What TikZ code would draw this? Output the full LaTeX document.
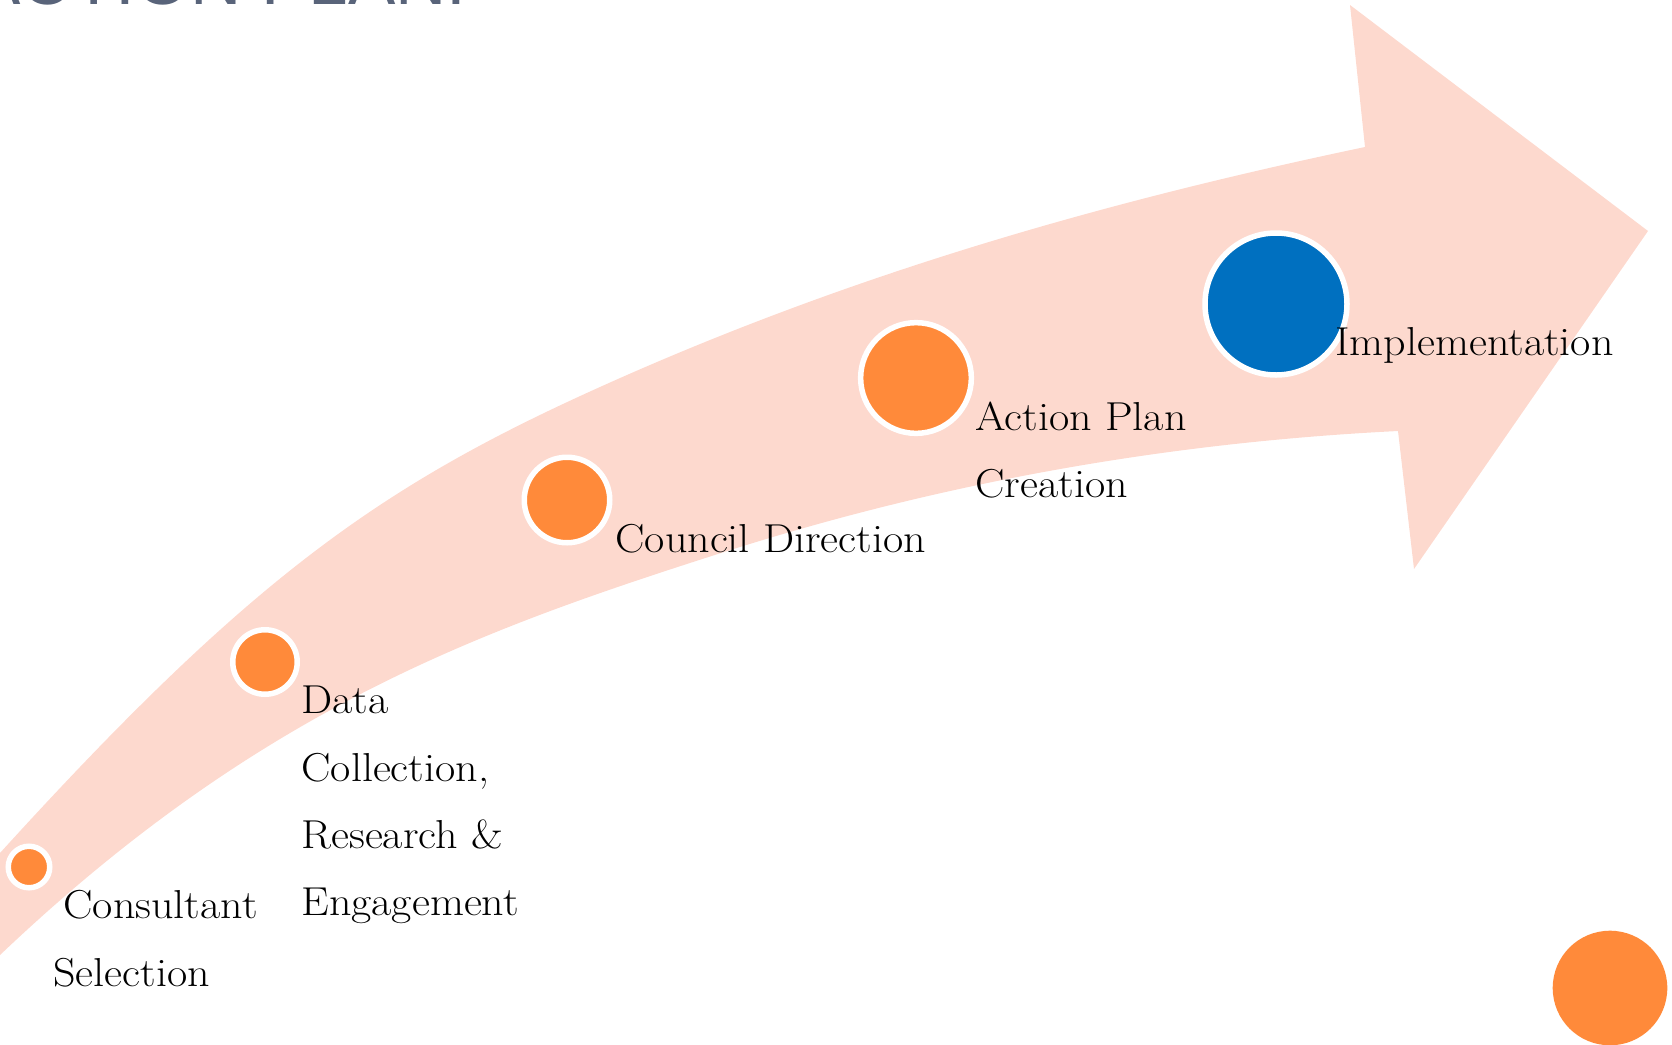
\documentclass[tikz,border=0pt]{standalone}
\usepackage{fontspec}
\newfontfamily\titlefont{Liberation Sans}
\definecolor{bandpink}{HTML}{FDD9CE}
\definecolor{dotorange}{HTML}{FF8A3A}
\definecolor{dotblue}{HTML}{0070C0}
\definecolor{titlegray}{HTML}{59647A}
\newcommand\wtxt[1]{\scalebox{1.09}[1]{#1}}
\begin{document}
\begin{tikzpicture}[x=0.5pt,y=-0.5pt,
  dot/.style={circle, fill=dotorange, draw=white, line width=2.75pt, inner sep=0pt},
  bluedot/.style={dot, fill=dotblue},
  plaindot/.style={circle, fill=dotorange, draw=none, inner sep=0pt},
  lbl/.style={anchor=base west, inner sep=0pt, font=\fontsize{20.2}{24}\selectfont, text=black},
  titletext/.style={anchor=base west, inner sep=0pt, font=\titlefont\fontsize{35.5}{40}\selectfont, text=titlegray}]
\useasboundingbox (0,0) rectangle (1672,1045);
\clip (0,0) rectangle (1672,1045);
% title (cut off at the top)
\node[titletext] (title) at (-27,4) {ACTION PLAN:};
% curved arrow band
\fill[bandpink] (-40,897) -- (0,853)
  .. controls (250,578) and (380,486) .. (600,387)
  .. controls (855,272) and (1110,200.5) .. (1365,147)
  -- (1350,5) -- (1648,231) -- (1414,569) -- (1398,431)
  .. controls (1172,442.3) and (947,480.7) .. (721,553)
  .. controls (481,629.8) and (260,708) .. (0,955)
  -- (-40,993) -- cycle;
% milestones
\node[dot, minimum size=20.75pt] (m1) at (29,867) {};
\node[dot, minimum size=32.25pt] (m2) at (265,662) {};
\node[dot, minimum size=42.75pt] (m3) at (567,500) {};
\node[dot, minimum size=55.35pt] (m4) at (916,378) {};
\node[bluedot, minimum size=71pt] (m5) at (1276,304) {};
\node[plaindot, minimum size=57.3pt] (m6) at (1610,988) {};
% labels
\node[lbl] (l1a) at (63,918) {\wtxt{Consultant}};
\node[lbl] (l1b) at (53,986) {\wtxt{Selection}};
\node[lbl] (l2a) at (301,713) {\wtxt{Data}};
\node[lbl] (l2b) at (301,781) {\wtxt{Collection,}};
\node[lbl] (l2c) at (301,848) {\wtxt{Research \&}};
\node[lbl] (l2d) at (301,915) {\wtxt{Engagement}};
\node[lbl] (l3) at (615,552) {\wtxt{Council Direction}};
\node[lbl] (l4a) at (975,430) {\wtxt{Action Plan}};
\node[lbl] (l4b) at (975,497) {\wtxt{Creation}};
\node[lbl] (l5) at (1335,355) {\wtxt{Implementation}};
\end{tikzpicture}
\end{document}
